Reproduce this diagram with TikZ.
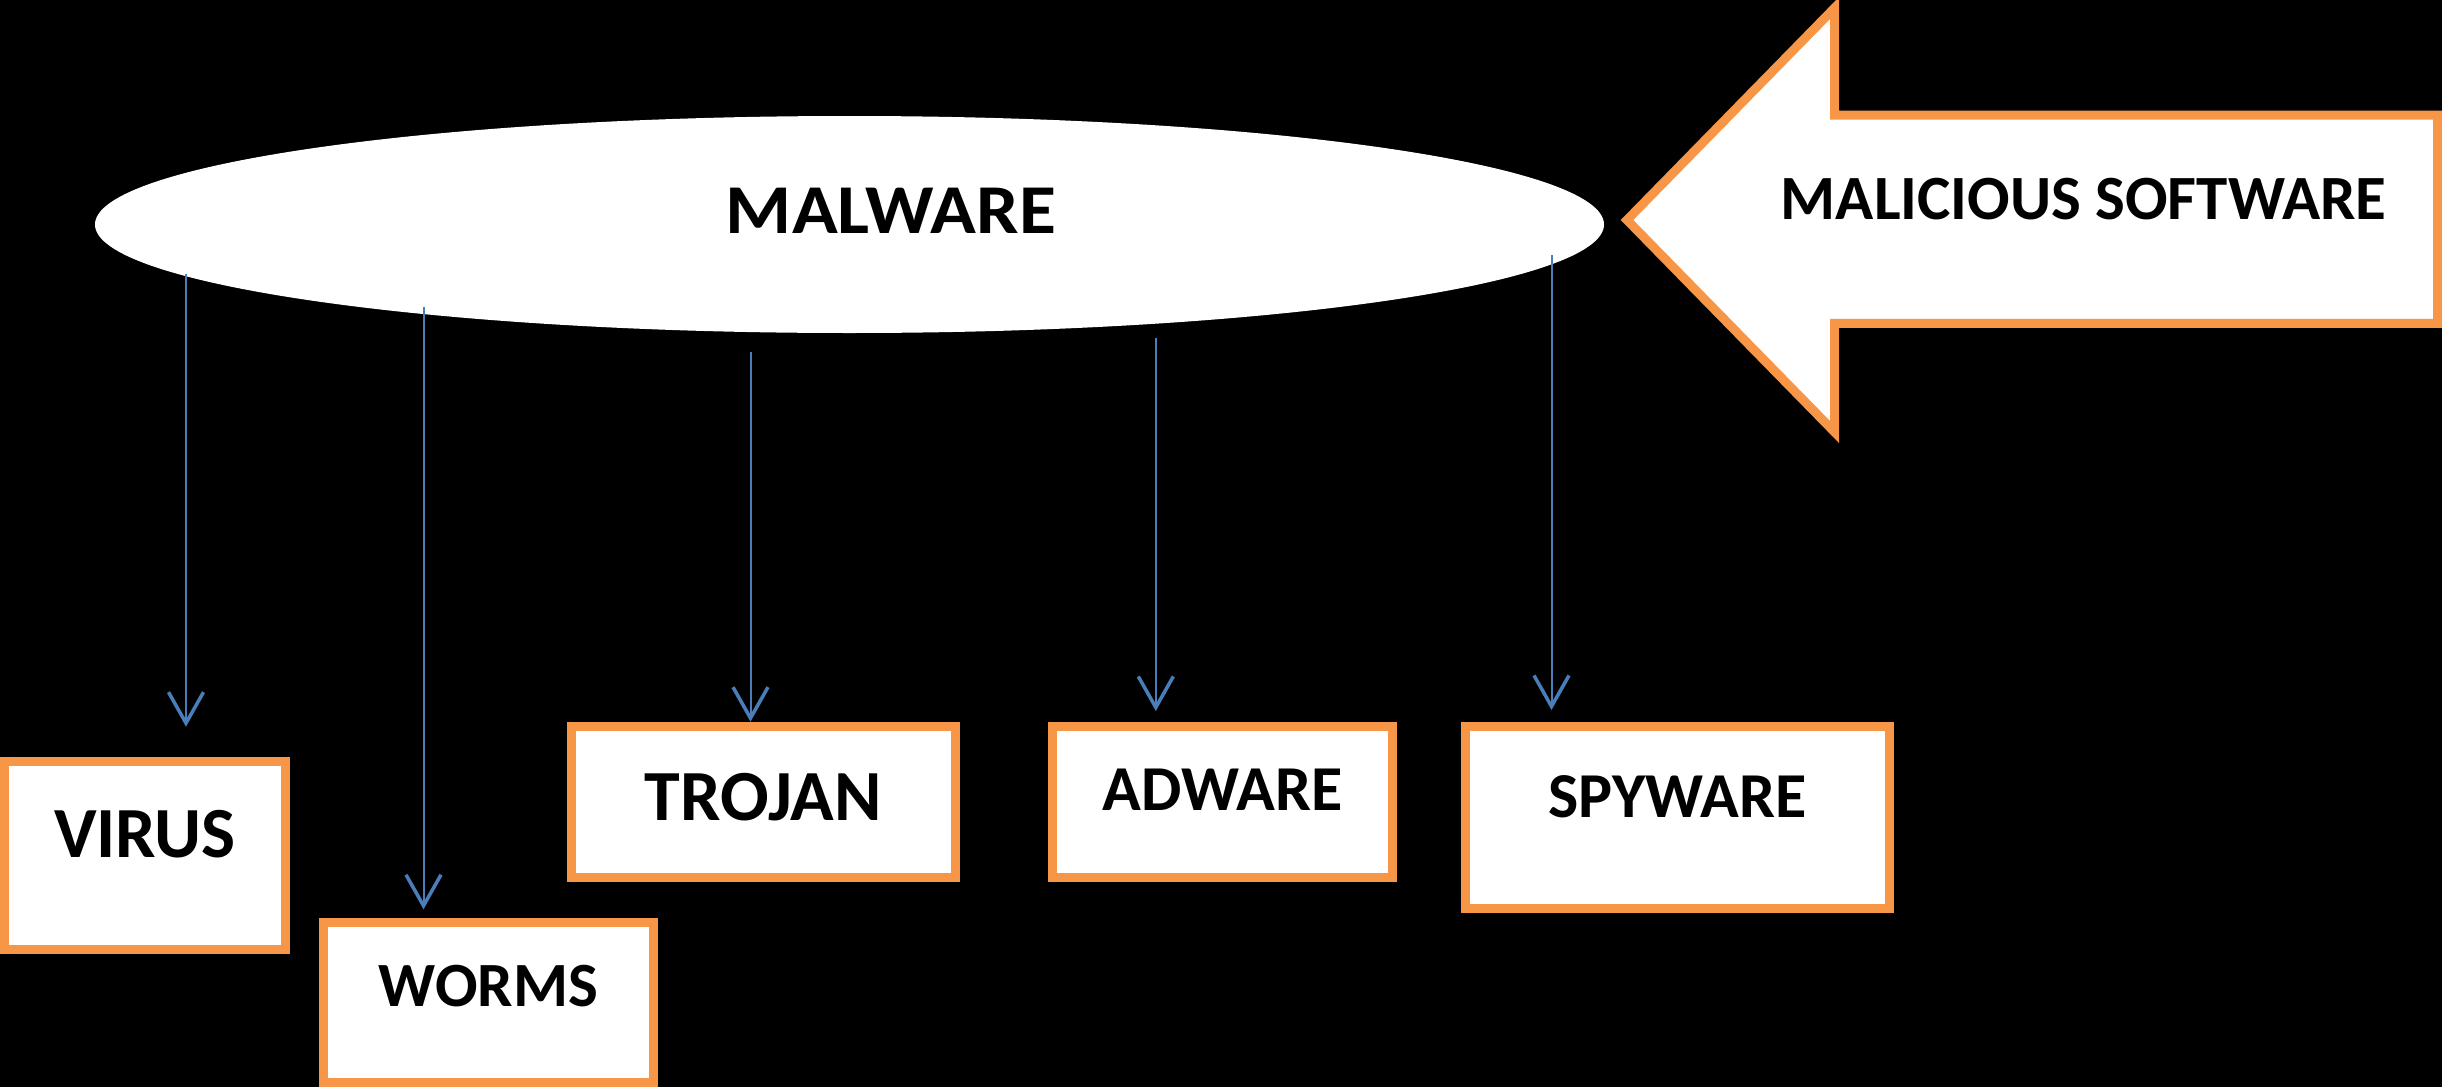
\documentclass[tikz,border=0pt]{standalone}
\usepackage{fontspec}
\setmainfont{Carlito}
\newfontfamily\widefont[FakeStretch=1.08]{Carlito}
\usepackage{tikz}
\usetikzlibrary{arrows.meta}
\usetikzlibrary{shapes.geometric}
\definecolor{boxorange}{HTML}{F79646}
\definecolor{linkblue}{HTML}{4A7EBB}
\tikzset{
  kind/.style={draw=boxorange, line width=9pt, fill=white, inner sep=0pt, anchor=base,
    font=\bfseries\fontsize{#1}{#1}\selectfont},
  hub/.style={ellipse, fill=white, inner sep=0pt},
  banner/.style={draw=boxorange, line width=9pt, fill=white},
  link/.style={draw=linkblue, line width=2pt,
    -{Straight Barb[length=31pt,width=35pt,line width=3.5pt]}},
}

\begin{document}
\begin{tikzpicture}[x=1pt,y=-1pt]
      \path[use as bounding box, fill=black] (0,0) rectangle (2442,1087);

      % the big ellipse
      \node[hub, minimum width=1509pt, minimum height=217pt,
        label={[name=malware-text, xshift=41.4pt, yshift=13.5pt,
          font=\widefont\bfseries\fontsize{70}{70}\selectfont]center:MALWARE}]
        (malware) at (849.5,224.5) {};

      % arrow pointing at the ellipse
      \draw[banner] (1627,220) -- (1834.5,8) -- (1834.5,115) -- (2437.5,115)
        -- (2437.5,323.3) -- (1834.5,323.3) -- (1834.5,432) -- cycle;
      \node[anchor=base, font=\bfseries\fontsize{63}{63}\selectfont]
        (malicious) at (2083.7,219) {MALICIOUS SOFTWARE};

      % the kinds
      \node[kind=72, minimum width=280.8pt, text height=96pt, text depth=91.3pt]
        (virus) at (144.9,857.7) {VIRUS};
      \node[kind=63, minimum width=329.5pt, text height=83.9pt, text depth=75.8pt]
        (worms) at (488.55,1006.7) {WORMS};
      \node[kind=72, minimum width=383.3pt, text height=93.3pt, text depth=57.2pt]
        (trojan) at (763.35,820) {TROJAN};
      \node[kind=64, minimum width=339.5pt, text height=84pt, text depth=66.5pt]
        (adware) at (1222.55,810.7) {ADWARE};
      \node[kind=64, minimum width=423.4pt, text height=90.6pt, text depth=91pt]
        (spyware) at (1677.5,817.3) {SPYWARE};

      % where the connectors start and stop
      \coordinate (virus-from) at (186,274);
      \coordinate (virus-to) at (186,726.7);
      \coordinate (worms-from) at (423.5,307);
      \coordinate (worms-to) at (423.5,909.3);
      \coordinate (trojan-from) at (750.5,352);
      \coordinate (trojan-to) at (750.5,721.7);
      \coordinate (adware-from) at (1155.8,338);
      \coordinate (adware-to) at (1155.8,711);
      \coordinate (spyware-from) at (1551.5,255);
      \coordinate (spyware-to) at (1551.5,710);

      \draw[link] (virus-from) -- (virus-to);
      \draw[link] (worms-from) -- (worms-to);
      \draw[link] (trojan-from) -- (trojan-to);
      \draw[link] (adware-from) -- (adware-to);
      \draw[link] (spyware-from) -- (spyware-to);
\end{tikzpicture}
\end{document}
